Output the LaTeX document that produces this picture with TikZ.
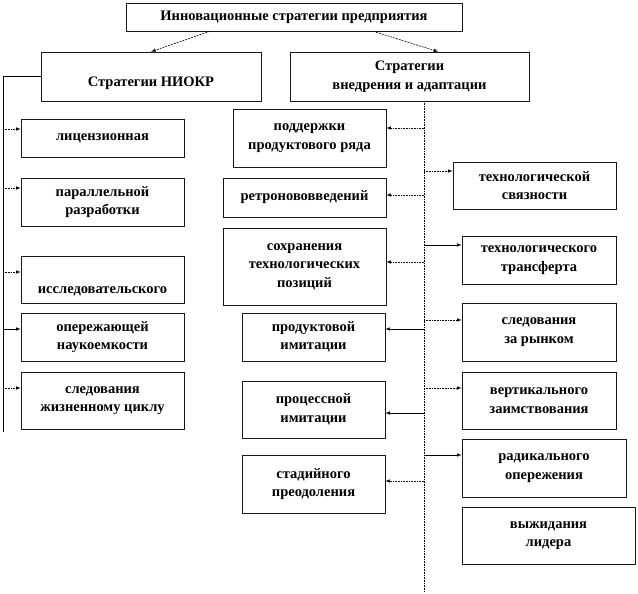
\documentclass[tikz,border=0pt]{standalone}
\usepackage{fontspec}
\setmainfont{Liberation Serif}
\usetikzlibrary{calc}
\definecolor{boxline}{HTML}{1A1A1A}

\begin{document}
\begin{tikzpicture}[x=1pt,y=-1pt,>=latex,
  box/.style={draw=boxline, line width=0.6pt, inner sep=2pt, align=center, font=\fontsize{14.5}{18.5}\selectfont\bfseries},
  link/.style={line width=0.6pt, ->},
  dots/.style={line width=0.6pt, densely dotted, ->},
  tdash/.style={line width=0.6pt, dash pattern=on 2pt off 1pt, ->}]
  \useasboundingbox (0,0) rectangle (638,594);

  % top levels
  \node[box, minimum width=336pt, minimum height=28pt] (top) at (294,17) {Инновационные стратегии предприятия};
  \node[box, minimum width=220pt, minimum height=49pt] (niokr) at (151,76.5) {\rule{0pt}{24pt}Стратегии НИОКР};
  \node[box, minimum width=239pt, minimum height=49pt] (vnedr) at (409.5,76.5) {Стратегии\\ внедрения и адаптации};
  \draw[tdash] ($(top.south west)!0.25!(top.south east)$) -- (niokr.north);
  \draw[tdash] ($(top.south west)!0.735!(top.south east)$) -- ($(vnedr.north west)!0.62!(vnedr.north east)$);

  % NIOKR column
  \node[box, minimum width=163pt, minimum height=38pt] (l1) at (102.5,138) {лицензионная};
  \node[box, minimum width=163pt, minimum height=48pt] (l2) at (102.5,202) {параллельной\\ разработки};
  \node[box, minimum width=163pt, minimum height=47pt] (l3) at (102.5,279.5) {\rule{0pt}{31pt}исследовательского};
  \node[box, minimum width=163pt, minimum height=48pt] (l4) at (102.5,337) {опережающей\\ наукоемкости};
  \node[box, minimum width=163pt, minimum height=57pt] (l5) at (102.5,400.5) {следования\\ жизненному циклу};

  \coordinate (lbot) at (3,432);
  \draw[line width=0.6pt] (niokr.west) -- (niokr.west -| lbot) -- (lbot);
  \foreach \n/\y/\s in {l1/129/dots, l2/188/dots, l3/272/dots, l4/329/link, l5/388/dots} {
    \coordinate (la\n) at (3,\y);
    \draw[\s] (la\n) -- (la\n -| \n.west);
  }

  % middle column
  \node[box, minimum width=153pt, minimum height=58pt] (m1) at (309.5,138) {поддержки\\ продуктового ряда};
  \node[box, minimum width=163pt, minimum height=39pt] (m2) at (304.5,197.5) {ретронововведений};
  \node[box, minimum width=163pt, minimum height=77pt] (m3) at (304.5,266.5) {сохранения\\ технологических\\ позиций};
  \node[box, minimum width=143pt, minimum height=48pt] (m4) at (313.5,337) {продуктовой\\ имитации};
  \node[box, minimum width=143pt, minimum height=57pt] (m5) at (313.5,409.5) {процессной\\ имитации};
  \node[box, minimum width=143pt, minimum height=58pt] (m6) at (313.5,484) {стадийного\\ преодоления};

  % right column
  \node[box, minimum width=163pt, minimum height=47pt] (r1) at (534.5,185.5) {технологической\\ связности};
  \node[box, minimum width=154pt, minimum height=48pt] (r2) at (539,260) {технологического\\ трансферта};
  \node[box, minimum width=154pt, minimum height=58pt] (r3) at (539,332) {следования\\ за рынком};
  \node[box, minimum width=154pt, minimum height=57pt] (r4) at (539,400.5) {вертикального\\ заимствования};
  \node[box, minimum width=164pt, minimum height=58pt] (r5) at (544,468) {радикального\\ опережения};
  \node[box, minimum width=173pt, minimum height=57pt] (r6) at (548.5,535.5) {выжидания\\ лидера};

  % trunk of the adaptation strategies
  \coordinate (mbot) at (424,592);
  \draw[line width=0.6pt, densely dotted] (mbot |- vnedr.south) -- (mbot);
  \foreach \n/\y/\s in {m1/128/dots, m2/195/dots, m3/262/dots, m4/329/link, m5/413/link, m6/481/dots} {
    \coordinate (ma\n) at (424,\y);
    \draw[\s] (ma\n) -- (ma\n -| \n.east);
  }
  \foreach \n/\y/\s in {r1/171/dots, r2/245/link, r3/320/dots, r4/388/dots, r5/455/link} {
    \coordinate (ra\n) at (424,\y);
    \draw[\s] (ra\n) -- (ra\n -| \n.west);
  }
\end{tikzpicture}
\end{document}
